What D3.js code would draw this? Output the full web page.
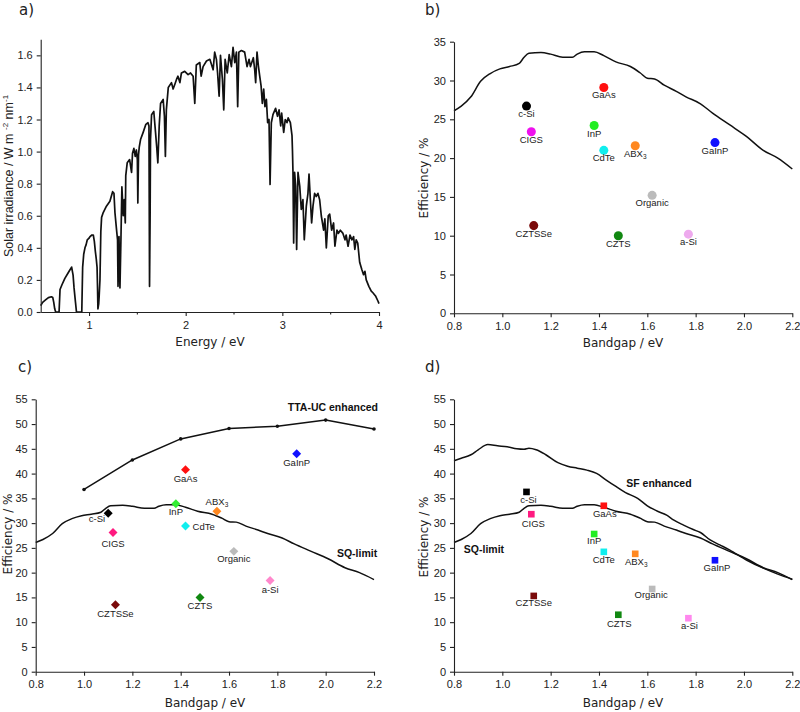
<!DOCTYPE html>
<html><head><meta charset="utf-8">
<script src="https://cdn.jsdelivr.net/npm/d3@7"></script>
<style>body{margin:0;background:#fff} svg{display:block}</style>
</head><body><svg id="c" width="800" height="712"></svg>
<script>
// ---------- DATA ----------
// Panel a: AM1.5 solar spectrum (energy in eV, irradiance in W m^-2 nm^-1)
const specEnergy = [0.50,0.52,0.55,0.58,0.61,0.625,0.635,0.645,0.655,0.69,0.70,0.72,0.75,0.78,0.80,0.82,0.835,0.845,0.86,0.87,0.925,0.934,0.945,0.958,0.97,0.982,1.0,1.01,1.03,1.044,1.055,1.065,1.075,1.083,1.088,1.092,1.10,1.105,1.113,1.122,1.13,1.147,1.18,1.216,1.244,1.258,1.268,1.285,1.295,1.30,1.31,1.32,1.33,1.34,1.354,1.364,1.375,1.38,1.395,1.42,1.44,1.45,1.464,1.478,1.49,1.50,1.505,1.512,1.52,1.533,1.56,1.588,1.61,1.62,1.626,1.632,1.636,1.647,1.67,1.688,1.70,1.712,1.726,1.74,1.767,1.78,1.79,1.80,1.82,1.853,1.87,1.888,1.905,1.92,1.94,1.956,1.99,2.025,2.05,2.077,2.094,2.11,2.146,2.16,2.18,2.215,2.25,2.284,2.30,2.318,2.33,2.346,2.36,2.38,2.394,2.408,2.43,2.45,2.473,2.49,2.508,2.525,2.538,2.55,2.577,2.61,2.635,2.656,2.67,2.70,2.714,2.724,2.738,2.752,2.766,2.78,2.793,2.807,2.82,2.835,2.848,2.862,2.873,2.886,2.903,2.93,2.95,2.966,2.983,2.993,3.014,3.03,3.048,3.06,3.083,3.10,3.105,3.11,3.117,3.127,3.138,3.148,3.162,3.18,3.196,3.213,3.227,3.248,3.265,3.276,3.29,3.303,3.317,3.334,3.35,3.368,3.386,3.403,3.427,3.44,3.455,3.475,3.49,3.51,3.53,3.544,3.565,3.58,3.60,3.627,3.648,3.66,3.68,3.70,3.72,3.737,3.75,3.764,3.78,3.80,3.823,3.84,3.854,3.868,3.895,3.92,3.937,3.964,3.99,4.0];
const specIrr = [0.04,0.06,0.075,0.09,0.095,0.09,0.06,0.02,0.0,0.0,0.14,0.17,0.21,0.24,0.26,0.28,0.23,0.15,0.06,0.0,0.0,0.28,0.36,0.40,0.42,0.45,0.46,0.47,0.48,0.48,0.44,0.38,0.33,0.28,0.15,0.02,0.05,0.10,0.20,0.50,0.59,0.62,0.66,0.69,0.75,0.74,0.62,0.51,0.45,0.16,0.47,0.15,0.45,0.78,0.60,0.70,0.555,0.85,0.93,0.95,0.87,0.99,1.02,0.97,1.01,0.95,0.68,0.98,1.03,1.075,1.12,1.17,1.18,1.16,0.16,0.60,1.075,1.23,1.25,1.12,1.03,0.93,1.16,1.30,1.325,1.22,0.97,1.26,1.40,1.43,1.39,1.42,1.45,1.47,1.43,1.49,1.50,1.48,1.49,1.47,1.30,1.54,1.555,1.47,1.53,1.565,1.575,1.51,1.62,1.575,1.49,1.345,1.60,1.45,1.26,1.575,1.49,1.605,1.53,1.65,1.555,1.62,1.28,1.62,1.63,1.62,1.53,1.575,1.53,1.585,1.51,1.43,1.62,1.535,1.47,1.41,1.30,1.39,1.28,1.325,1.18,1.20,0.795,1.18,1.23,1.27,1.22,1.26,1.16,1.24,1.12,1.20,1.18,1.21,1.18,1.10,1.0,0.87,0.43,0.87,0.785,0.39,0.87,0.785,0.64,0.70,0.45,0.66,0.74,0.86,0.70,0.555,0.66,0.74,0.72,0.74,0.70,0.60,0.51,0.58,0.40,0.60,0.61,0.51,0.555,0.41,0.51,0.49,0.51,0.49,0.45,0.48,0.41,0.48,0.45,0.47,0.39,0.45,0.43,0.31,0.264,0.233,0.254,0.20,0.16,0.13,0.12,0.10,0.067,0.052];
const specXTicks = [1, 2, 3, 4];
const specXMinor = [1.5, 2.5, 3.5];
const specYTicks = [0, 0.2, 0.4, 0.6, 0.8, 1.0, 1.2, 1.4, 1.6];

// Shockley-Queisser limit
const sqEnergy = [0.80,0.83,0.87,0.91,0.95,0.99,1.03,1.07,1.09,1.11,1.16,1.20,1.25,1.29,1.31,1.34,1.38,1.42,1.47,1.53,1.57,1.60,1.63,1.67,1.72,1.76,1.82,1.87,1.94,2.01,2.08,2.14,2.20];
const sqEff = [26.1,26.7,27.9,29.9,30.9,31.5,31.8,32.2,33.0,33.5,33.6,33.4,33.0,33.0,33.4,33.7,33.7,33.2,32.4,31.8,31.0,30.3,30.2,29.4,28.6,27.9,27.0,25.8,24.3,22.8,21.0,20.0,18.6];

// TTA-UC enhanced limit
const ttaEnergy = [1.0, 1.2, 1.4, 1.6, 1.8, 2.0, 2.2];
const ttaEff = [36.8, 42.75, 47.0, 49.1, 49.55, 50.8, 49.0];

// SF enhanced limit
const sfEnergy = [0.80,0.83,0.87,0.90,0.94,0.98,1.02,1.06,1.09,1.11,1.14,1.18,1.23,1.27,1.31,1.35,1.39,1.43,1.47,1.51,1.56,1.60,1.64,1.68,1.71,1.75,1.79,1.82,1.86,1.90,1.94,2.01,2.08,2.14,2.20];
const sfEff = [42.6,43.1,43.8,44.8,45.85,45.6,45.4,45.0,44.9,45.1,44.8,43.8,42.2,41.5,41.1,40.7,40.05,38.7,37.4,36.15,35.0,33.5,32.45,31.6,30.6,29.6,28.7,28.1,26.6,25.6,24.6,22.55,20.9,19.7,18.65];

// Materials
const materials = ["c-Si","GaAs","InP","CIGS","CdTe","ABX3","GaInP","Organic","CZTSSe","CZTS","a-Si"];
const bandgaps  = [1.10, 1.42, 1.38, 1.12, 1.42, 1.55, 1.88, 1.62, 1.13, 1.48, 1.77];
const effRecord = [26.7, 29.1, 24.2, 23.4, 21.0, 21.6, 22.0, 15.2, 11.3, 10.0, 10.2];
const effTTA    = [32.0, 40.8, 33.9, 28.1, 29.4, 32.4, 44.0, 24.3, 13.5, 15.0, 18.4];
const effSF     = [36.3, 33.5, 27.8, 31.8, 24.2, 23.8, 22.5, 16.7, 15.3, 11.5, 10.8];
const colorsB = ["#000000","#ff1010","#22ee22","#ee10ee","#10eeee","#ff8820","#1010ff","#bbbbbb","#7a0a0a","#118811","#eeaaee"];
const colorsC = ["#000000","#ff1010","#33ee33","#ff1a80","#10eeee","#ff8820","#1010ff","#bbbbbb","#7a0a0a","#118811","#ff88cc"];
const colorsD = ["#000000","#ff1010","#22ee22","#ff1a80","#10eeee","#ff8820","#1010ff","#bbbbbb","#7a0a0a","#118811","#ff88ee"];

const bgTicks = [0.8, 1.0, 1.2, 1.4, 1.6, 1.8, 2.0, 2.2];
const effTicksB = [0, 5, 10, 15, 20, 25, 30, 35];
const effTicksCD = [0, 5, 10, 15, 20, 25, 30, 35, 40, 45, 50, 55];

// ---------- LAYOUT ----------
const svg = d3.select("#c");
const SANS = "'Liberation Sans', Arial, sans-serif";
const WIDE = "'DejaVu Sans', Verdana, sans-serif";

function drawAxes(x, y, xTicks, yTicks, xFmt, yFmt, xMinor) {
  const xr = x.range(), yr = y.range();
  const gx = svg.append("g").attr("transform", `translate(0,${yr[0]})`)
    .call(d3.axisBottom(x).tickValues(xTicks).tickFormat(xFmt).tickSize(4).tickSizeOuter(0).tickPadding(5));
  const gy = svg.append("g").attr("transform", `translate(${xr[0]},0)`)
    .call(d3.axisLeft(y).tickValues(yTicks).tickFormat(yFmt).tickSize(4).tickSizeOuter(0).tickPadding(4));
  [gx, gy].forEach(g => {
    g.selectAll("text").attr("font-family", SANS).attr("font-size", 11).attr("fill", "#222");
    g.selectAll("line,path").attr("stroke", "#222").attr("stroke-width", 1.1);
  });
  if (xMinor) {
    svg.append("g").selectAll("line").data(xMinor).join("line")
      .attr("x1", d => x(d)).attr("x2", d => x(d))
      .attr("y1", yr[0]).attr("y2", yr[0] + 2.5)
      .attr("stroke", "#222").attr("stroke-width", 1.1);
  }
}

function title(txt, xp, yp) {
  svg.append("text").attr("x", xp).attr("y", yp).text(txt)
    .attr("font-family", WIDE).attr("font-size", 15).attr("fill", "#222");
}

function xTitle(txt, xp, yp) {
  svg.append("text").attr("x", xp).attr("y", yp).attr("text-anchor", "middle").text(txt)
    .attr("font-family", WIDE).attr("font-size", 12).attr("fill", "#222");
}

function yTitle(xp, yp, build, fam, size) {
  const t = svg.append("text").attr("transform", `translate(${xp},${yp}) rotate(-90)`)
    .attr("text-anchor", "middle").attr("font-family", fam).attr("font-size", size).attr("fill", "#222");
  build(t);
}

function drawLine(xs, ys, x, y, curve, w) {
  svg.append("path").datum(xs.map((v, i) => [v, ys[i]]))
    .attr("d", d3.line().x(d => x(d[0])).y(d => y(d[1])).curve(curve || d3.curveLinear))
    .attr("fill", "none").attr("stroke", "#111").attr("stroke-width", w || 1.5).attr("stroke-linejoin", "round");
}

function materialLabels(x, y, effs, pos) {
  materials.forEach((m, i) => {
    const p = pos[m] || [0, 11, "middle"];
    const t = svg.append("text").attr("x", x(bandgaps[i]) + p[0]).attr("y", y(effs[i]) + p[1])
      .attr("text-anchor", p[2] || "middle").attr("font-family", SANS).attr("font-size", 9.5).attr("fill", "#222");
    if (m === "ABX3") {
      t.append("tspan").text("ABX");
      t.append("tspan").text("3").attr("font-size", 6.5).attr("dy", 2);
    } else t.text(m);
  });
}

function markers(x, y, effs, colors, type, size, rot) {
  svg.append("g").selectAll("path").data(materials).join("path")
    .attr("d", d3.symbol().type(type).size(size))
    .attr("transform", (d, i) => `translate(${x(bandgaps[i])},${y(effs[i])}) rotate(${rot || 0})`)
    .attr("fill", (d, i) => colors[i]);
}

// ---------- PANEL A ----------
{
  const x = d3.scaleLinear().domain([0.5, 4]).range([40.7, 379]);
  const y = d3.scaleLinear().domain([0, 1.7]).range([312, 39.3]);
  drawLine(specEnergy, specIrr, x, y, d3.curveLinear, 1.7);
  drawAxes(x, y, specXTicks, specYTicks, d3.format("d"), d3.format(".1f"), specXMinor);
  title("a)", 19, 15);
  xTitle("Energy / eV", 210, 346);
  yTitle(13, 176, t => {
    t.append("tspan").text("Solar irradiance / W m ");
    t.append("tspan").text("-2").attr("font-size", 8).attr("dy", -5);
    t.append("tspan").text(" nm").attr("dy", 5);
    t.append("tspan").text("-1").attr("font-size", 8).attr("dy", -5);
  }, SANS, 12.5);
}

// ---------- PANEL B ----------
{
  const x = d3.scaleLinear().domain([0.8, 2.2]).range([454, 792.3]);
  const y = d3.scaleLinear().domain([0, 35]).range([313.3, 41.7]);
  drawLine(sqEnergy, sqEff, x, y, d3.curveMonotoneX);
  drawAxes(x, y, bgTicks, effTicksB, d3.format(".1f"), d3.format("d"));
  markers(x, y, effRecord, colorsB, d3.symbolCircle, 64, 0);
  materialLabels(x, y, effRecord, {});
  title("b)", 425, 15);
  xTitle("Bandgap / eV", 623, 347);
  yTitle(428, 178, t => t.text("Efficiency / %"), WIDE, 12);
}

// ---------- PANEL C ----------
{
  const x = d3.scaleLinear().domain([0.8, 2.2]).range([35.7, 374]);
  const y = d3.scaleLinear().domain([0, 55]).range([671.7, 399.3]);
  drawLine(sqEnergy, sqEff, x, y, d3.curveMonotoneX);
  drawLine(ttaEnergy, ttaEff, x, y);
  svg.append("g").selectAll("circle").data(ttaEnergy).join("circle")
    .attr("cx", d => x(d)).attr("cy", (d, i) => y(ttaEff[i])).attr("r", 1.8).attr("fill", "#111");
  drawAxes(x, y, bgTicks, effTicksCD, d3.format(".1f"), d3.format("d"));
  markers(x, y, effTTA, colorsC, d3.symbolSquare, 40, 45);
  materialLabels(x, y, effTTA, {
    "c-Si": [-3, 9, "end"], "GaAs": [0, 12], "InP": [0, 11], "CIGS": [0, 14],
    "CdTe": [7, 4, "start"], "ABX3": [0, -6], "GaInP": [0, 12], "Organic": [0, 11],
    "CZTSSe": [0, 12], "CZTS": [0, 12], "a-Si": [0, 12]
  });
  svg.append("text").attr("x", x(2.03)).attr("y", y(52.7)).attr("text-anchor", "middle")
    .attr("font-family", SANS).attr("font-weight", "bold").attr("font-size", 10.5).attr("fill", "#111").text("TTA-UC enhanced");
  svg.append("text").attr("x", x(2.13)).attr("y", y(23.2)).attr("text-anchor", "middle")
    .attr("font-family", SANS).attr("font-weight", "bold").attr("font-size", 10.5).attr("fill", "#111").text("SQ-limit");
  title("c)", 18, 372);
  xTitle("Bandgap / eV", 205, 707);
  yTitle(12, 534, t => t.text("Efficiency / %"), WIDE, 12);
}

// ---------- PANEL D ----------
{
  const x = d3.scaleLinear().domain([0.8, 2.2]).range([454, 792.3]);
  const y = d3.scaleLinear().domain([0, 55]).range([671.7, 399.3]);
  drawLine(sqEnergy, sqEff, x, y, d3.curveMonotoneX);
  drawLine(sfEnergy, sfEff, x, y, d3.curveMonotoneX);
  drawAxes(x, y, bgTicks, effTicksCD, d3.format(".1f"), d3.format("d"));
  markers(x, y, effSF, colorsD, d3.symbolSquare, 44, 0);
  materialLabels(x, y, effSF, {
    "c-Si": [2, 11], "GaAs": [1, 11], "CIGS": [2, 13], "InP": [0, 10], "CdTe": [0, 11],
    "ABX3": [1, 11], "GaInP": [2, 11], "Organic": [-1, 9], "CZTSSe": [0, 10], "CZTS": [1, 12], "a-Si": [1, 11]
  });
  svg.append("text").attr("x", x(1.648)).attr("y", y(37.3)).attr("text-anchor", "middle")
    .attr("font-family", SANS).attr("font-weight", "bold").attr("font-size", 10.5).attr("fill", "#111").text("SF enhanced");
  svg.append("text").attr("x", x(0.924)).attr("y", y(24.0)).attr("text-anchor", "middle")
    .attr("font-family", SANS).attr("font-weight", "bold").attr("font-size", 10.5).attr("fill", "#111").text("SQ-limit");
  title("d)", 425, 372);
  xTitle("Bandgap / eV", 623, 707);
  yTitle(428, 537, t => t.text("Efficiency / %"), WIDE, 12);
}
</script></body></html>
